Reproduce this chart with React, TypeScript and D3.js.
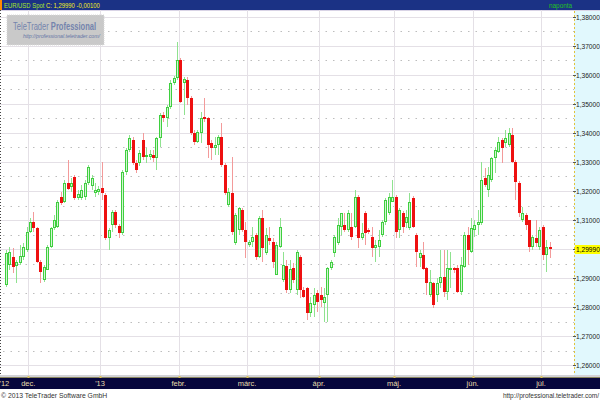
import React from 'react';
import * as d3 from 'd3';

// Daily EUR/USD candles, 22 Nov 2012 .. 3 Jul 2013 (trading-day index 0..159)
const opens = [
  1.2876, 1.2945, 1.2972, 1.2941, 1.2952, 1.2972, 1.2997, 1.3059, 1.3093, 1.3072,
  1.2955, 1.2893, 1.2928, 1.3007, 1.3072, 1.3076, 1.3179, 1.3162, 1.3228, 1.3214,
  1.3248, 1.3176, 1.3176, 1.3179, 1.3228, 1.3217, 1.3193, 1.3197, 1.3210, 1.3186,
  1.3038, 1.3083, 1.3128, 1.3079, 1.3055, 1.3266, 1.3341, 1.3376, 1.3297, 1.3297,
  1.3376, 1.3317, 1.3317, 1.3324, 1.3314, 1.3383, 1.3462, 1.3452, 1.3490, 1.3572,
  1.3590, 1.3652, 1.3572, 1.3583, 1.3521, 1.3400, 1.3369, 1.3400, 1.3455, 1.3452,
  1.3366, 1.3348, 1.3359, 1.3386, 1.3290, 1.3152, 1.3193, 1.3021, 1.3066, 1.3134,
  1.3066, 1.3014, 1.3024, 1.3048, 1.2972, 1.3107, 1.2986, 1.3038, 1.3024, 1.2910,
  1.3007, 1.2893, 1.2941, 1.2859, 1.2934, 1.2859, 1.2972, 1.2859, 1.2866, 1.2779,
  1.2807, 1.2848, 1.2841, 1.2814, 1.2841, 1.2934, 1.2986, 1.3021, 1.3076, 1.3083,
  1.3066, 1.3076, 1.3076, 1.3179, 1.3038, 1.3124, 1.3066, 1.3041, 1.3003, 1.3007,
  1.3048, 1.3093, 1.3124, 1.3162, 1.3179, 1.3066, 1.3124, 1.3090, 1.3072, 1.3176,
  1.3048, 1.2969, 1.2979, 1.2934, 1.2841, 1.2883, 1.2841, 1.2883, 1.2903, 1.2852,
  1.2928, 1.2934, 1.2934, 1.2852, 1.2938, 1.3048, 1.2990, 1.3066, 1.3083, 1.3090,
  1.3245, 1.3203, 1.3238, 1.3314, 1.3335, 1.3376, 1.3366, 1.3359, 1.3393, 1.3300,
  1.3228, 1.3100, 1.3117, 1.3100, 1.3007, 1.3038, 1.3007, 1.3076, 1.2979, 1.3007,
];
const highs = [
  1.2997, 1.3007, 1.3003, 1.2962, 1.3014, 1.3021, 1.3076, 1.3107, 1.3128, 1.3076,
  1.2962, 1.2945, 1.3014, 1.3076, 1.3117, 1.3169, 1.3197, 1.3238, 1.3307, 1.3245,
  1.3255, 1.3203, 1.3221, 1.3238, 1.3290, 1.3255, 1.3228, 1.3217, 1.3300, 1.3193,
  1.3072, 1.3134, 1.3134, 1.3086, 1.3272, 1.3348, 1.3393, 1.3386, 1.3307, 1.3341,
  1.3400, 1.3348, 1.3341, 1.3341, 1.3386, 1.3469, 1.3472, 1.3497, 1.3583, 1.3597,
  1.3714, 1.3659, 1.3593, 1.3593, 1.3528, 1.3410, 1.3410, 1.3472, 1.3521, 1.3455,
  1.3376, 1.3386, 1.3393, 1.3434, 1.3297, 1.3210, 1.3317, 1.3124, 1.3145, 1.3141,
  1.3093, 1.3031, 1.3076, 1.3055, 1.3114, 1.3134, 1.3072, 1.3076, 1.3038, 1.3024,
  1.3107, 1.2990, 1.2962, 1.2962, 1.2952, 1.2997, 1.2979, 1.2869, 1.2869, 1.2834,
  1.2866, 1.2859, 1.2869, 1.2866, 1.2938, 1.2962, 1.3048, 1.3107, 1.3124, 1.3124,
  1.3134, 1.3124, 1.3203, 1.3186, 1.3090, 1.3131, 1.3072, 1.3076, 1.3031, 1.3066,
  1.3100, 1.3176, 1.3193, 1.3238, 1.3186, 1.3141, 1.3131, 1.3134, 1.3193, 1.3183,
  1.3055, 1.2997, 1.3024, 1.2938, 1.2928, 1.2886, 1.2900, 1.2997, 1.2997, 1.2997,
  1.2990, 1.2938, 1.2945, 1.2972, 1.3059, 1.3076, 1.3107, 1.3100, 1.3134, 1.3300,
  1.3279, 1.3283, 1.3317, 1.3352, 1.3386, 1.3383, 1.3410, 1.3417, 1.3417, 1.3307,
  1.3235, 1.3145, 1.3124, 1.3100, 1.3048, 1.3100, 1.3076, 1.3083, 1.3031, 1.3024,
];
const lows = [
  1.2869, 1.2928, 1.2917, 1.2883, 1.2945, 1.2962, 1.2990, 1.3055, 1.3059, 1.2952,
  1.2883, 1.2886, 1.2928, 1.3003, 1.3066, 1.3072, 1.3152, 1.3159, 1.3203, 1.3197,
  1.3169, 1.3169, 1.3169, 1.3169, 1.3221, 1.3203, 1.3179, 1.3186, 1.3169, 1.3031,
  1.2997, 1.3059, 1.3072, 1.3038, 1.3048, 1.3255, 1.3335, 1.3290, 1.3262, 1.3286,
  1.3307, 1.3297, 1.3307, 1.3300, 1.3272, 1.3352, 1.3438, 1.3421, 1.3483, 1.3566,
  1.3583, 1.3504, 1.3462, 1.3497, 1.3393, 1.3359, 1.3366, 1.3366, 1.3438, 1.3314,
  1.3307, 1.3324, 1.3324, 1.3283, 1.3186, 1.3145, 1.3048, 1.3014, 1.3048, 1.3059,
  1.2969, 1.3007, 1.3007, 1.2962, 1.2969, 1.2955, 1.2979, 1.3014, 1.2934, 1.2910,
  1.3003, 1.2886, 1.2848, 1.2848, 1.2883, 1.2841, 1.2831, 1.2831, 1.2755, 1.2765,
  1.2765, 1.2783, 1.2800, 1.2748, 1.2748, 1.2928, 1.2972, 1.3014, 1.3048, 1.3059,
  1.3059, 1.3031, 1.3072, 1.3003, 1.3031, 1.3014, 1.3052, 1.2972, 1.2955, 1.2972,
  1.3041, 1.3083, 1.3117, 1.3162, 1.3038, 1.3038, 1.3055, 1.3072, 1.3066, 1.3072,
  1.2938, 1.2938, 1.2928, 1.2841, 1.2834, 1.2797, 1.2817, 1.2866, 1.2834, 1.2824,
  1.2866, 1.2917, 1.2848, 1.2841, 1.2934, 1.2945, 1.2986, 1.3041, 1.3048, 1.3083,
  1.3214, 1.3179, 1.3231, 1.3262, 1.3331, 1.3297, 1.3352, 1.3352, 1.3297, 1.3169,
  1.3110, 1.3093, 1.3066, 1.2990, 1.2997, 1.3007, 1.2997, 1.2962, 1.2921, 1.2969,
];
const closes = [
  1.2986, 1.2990, 1.2938, 1.2955, 1.2976, 1.3007, 1.3059, 1.3093, 1.3072, 1.2955,
  1.2921, 1.2938, 1.3007, 1.3072, 1.3100, 1.3162, 1.3159, 1.3228, 1.3207, 1.3228,
  1.3176, 1.3190, 1.3203, 1.3228, 1.3283, 1.3245, 1.3203, 1.3207, 1.3193, 1.3038,
  1.3066, 1.3128, 1.3083, 1.3055, 1.3266, 1.3341, 1.3383, 1.3297, 1.3272, 1.3331,
  1.3317, 1.3324, 1.3328, 1.3314, 1.3383, 1.3462, 1.3452, 1.3490, 1.3572, 1.3590,
  1.3652, 1.3507, 1.3586, 1.3521, 1.3400, 1.3369, 1.3403, 1.3452, 1.3448, 1.3359,
  1.3348, 1.3359, 1.3386, 1.3290, 1.3193, 1.3197, 1.3059, 1.3117, 1.3141, 1.3066,
  1.3024, 1.3024, 1.3041, 1.2972, 1.3107, 1.3003, 1.3048, 1.3028, 1.2955, 1.3014,
  1.3076, 1.2945, 1.2859, 1.2931, 1.2893, 1.2990, 1.2859, 1.2834, 1.2779, 1.2814,
  1.2841, 1.2817, 1.2824, 1.2834, 1.2934, 1.2955, 1.3041, 1.3083, 1.3124, 1.3066,
  1.3124, 1.3041, 1.3179, 1.3038, 1.3055, 1.3055, 1.3059, 1.3003, 1.3014, 1.3031,
  1.3093, 1.3169, 1.3179, 1.3179, 1.3059, 1.3134, 1.3076, 1.3110, 1.3162, 1.3076,
  1.2990, 1.2986, 1.2931, 1.2883, 1.2886, 1.2807, 1.2883, 1.2903, 1.2852, 1.2934,
  1.2934, 1.2928, 1.2852, 1.2945, 1.3048, 1.2997, 1.3072, 1.3083, 1.3093, 1.3238,
  1.3221, 1.3255, 1.3314, 1.3341, 1.3369, 1.3348, 1.3383, 1.3400, 1.3300, 1.3231,
  1.3124, 1.3124, 1.3083, 1.3007, 1.3041, 1.3021, 1.3066, 1.2979, 1.3007, 1.2999,
];

// month boundaries (between trading-day indices) and their labels
const monthTickIdx = [6.5, 27.5, 50.5, 70.5, 91.5, 113.5, 136.5, 156.5];
const monthLabels = ['dec.', "'13", 'febr.', 'márc.', 'ápr.', 'máj.', 'jún.', 'júl.'];
const startLabel = "'12";
const startLabelIdx = -0.5;

const yTicks = [1.26, 1.27, 1.28, 1.29, 1.30, 1.31, 1.32, 1.33, 1.34, 1.35, 1.36, 1.37, 1.38];
const yMinorTicks = [1.265, 1.275, 1.285, 1.295, 1.305, 1.315, 1.325, 1.335, 1.345, 1.355, 1.365, 1.375];
const lastPrice = 1.2999;

const headerSymbol = 'EUR/USD Spot';
const headerClose = 'C: 1,29990';
const headerChange = '-0,00100';
const headerPeriod = 'naponta';

const PLOT_L = 0;
const PLOT_R = 574;
const PLOT_T = 10;
const PLOT_B = 375;

const fmt = (v: number) => v.toFixed(5).replace('.', ',');

export default function App() {
  const n = opens.length;
  const x = d3.scaleLinear().domain([0, n - 1]).range([6.08, 6.08 + 3.418 * (n - 1)]);
  const y = d3.scaleLinear().domain([1.26, 1.38]).range([365, 17]);
  const font = 'Liberation Sans, Arial, sans-serif';

  const candles = d3.range(n).map((i) => {
    const o = opens[i], h = highs[i], l = lows[i], c = closes[i];
    const up = c >= o;
    const cx = Math.round(x(i));
    const yTop = Math.round(y(Math.max(o, c)));
    const yBot = Math.round(y(Math.min(o, c)));
    const bh = Math.max(1, yBot - yTop);
    return (
      <g key={i}>
        <line x1={cx + 0.5} x2={cx + 0.5} y1={Math.round(y(h))} y2={Math.round(y(l))}
          stroke={up ? '#8fe28f' : '#f39a9a'} strokeWidth={1} />
        {up ? (
          <rect x={cx - 0.5} y={yTop + 0.5} width={2} height={Math.max(0.5, bh - 1)}
            fill="#d2f5d2" stroke="#3fcf3f" strokeWidth={1} />
        ) : (
          <rect x={cx - 1} y={yTop} width={3} height={bh} fill="#ee1010" />
        )}
      </g>
    );
  });

  return (
    <svg width={600} height={400} style={{ position: 'absolute', left: 0, top: 0, display: 'block' }}
      fontFamily={font}>
      <defs>
        <clipPath id="plotclip">
          <rect x={PLOT_L} y={PLOT_T} width={PLOT_R - PLOT_L} height={PLOT_B - PLOT_T} />
        </clipPath>
      </defs>
      <rect x={0} y={0} width={600} height={400} fill="#ffffff" />

      {/* header bar */}
      <rect x={0} y={0} width={600} height={10} fill="#1b3285" />
      <rect x={0} y={0} width={2} height={10} fill="#ff8a00" />
      <g transform="translate(4,8) scale(0.74,1)">
        <text x={0} y={0} fontSize={8}>
          <tspan fill="#a8e82a">{headerSymbol} </tspan>
          <tspan fill="#f0f020">{headerClose} {headerChange}</tspan>
        </text>
      </g>
      <g transform="translate(549,8) scale(0.8,1)">
        <text x={0} y={0} fontSize={8} fill="#22c022">{headerPeriod}</text>
      </g>
      <line x1={0} x2={600} y1={10.5} y2={10.5} stroke="#d9d4e6" />

      {/* grid */}
      <g>
        {yTicks.map((t) => (
          <line key={'g' + t} x1={PLOT_L} x2={PLOT_R} y1={Math.round(y(t)) + 0.5} y2={Math.round(y(t)) + 0.5}
            stroke="#e4e0e6" strokeWidth={1} />
        ))}
        {yMinorTicks.map((t) => (
          <line key={'m' + t} x1={PLOT_L + 3} x2={PLOT_R} y1={Math.round(y(t)) + 0.5} y2={Math.round(y(t)) + 0.5}
            stroke="#bdbdbd" strokeWidth={1} strokeDasharray="1.5,6" />
        ))}
        {monthTickIdx.map((t, k) => (
          <line key={'v' + k} x1={Math.round(x(t)) + 0.5} x2={Math.round(x(t)) + 0.5} y1={PLOT_T} y2={PLOT_B}
            stroke="#e4e0e6" strokeWidth={1} />
        ))}
      </g>
      <line x1={0.5} x2={0.5} y1={PLOT_T} y2={PLOT_B} stroke="#444" strokeDasharray="1,2" />

      {/* watermark */}
      <rect x={7} y={15} width={97} height={30} fill="#c9c9c9" stroke="#d8d8d8" strokeDasharray="1,1" />
      <g transform="translate(13,30) scale(0.72,1)">
        <text x={0} y={0} fontSize={10.5} fill="#7484ad">
          TeleTrader <tspan fontWeight="bold">Professional</tspan>
        </text>
      </g>
      <g transform="translate(23,37.5) scale(0.9,1)">
        <text x={0} y={0} fontSize={5.8} fontStyle="italic" fill="#6676a6">http://professional.teletrader.com/</text>
      </g>

      {/* candles */}
      <g clipPath="url(#plotclip)">{candles}</g>

      {/* right axis */}
      <rect x={PLOT_R} y={PLOT_T + 1} width={600 - PLOT_R} height={PLOT_B - PLOT_T - 1} fill="#e1f8fd" />
      <line x1={PLOT_R + 0.5} x2={PLOT_R + 0.5} y1={PLOT_T + 1} y2={PLOT_B} stroke="#e2c23a" strokeDasharray="2,2" />
      {yTicks.map((t) => (
        <g key={'yt' + t}>
          <line x1={PLOT_R - 1} x2={PLOT_R + 2} y1={Math.round(y(t)) + 0.5} y2={Math.round(y(t)) + 0.5} stroke="#555" />
          <text x={576} y={y(t) + 2.6} fontSize={6.6} fill="#222">{fmt(t)}</text>
        </g>
      ))}
      <rect x={575} y={Math.round(y(lastPrice)) - 4} width={25} height={9} fill="#ffff00" />
      <text x={576} y={y(lastPrice) + 2.6} fontSize={6.6} fill="#000">{fmt(lastPrice)}</text>

      {/* bottom axis */}
      <rect x={0} y={PLOT_B} width={600} height={2} fill="#d2d2d6" />
      <rect x={0} y={PLOT_B + 2} width={600} height={12} fill="#06063c" />
      <line x1={0} x2={600} y1={PLOT_B + 2.5} y2={PLOT_B + 2.5} stroke="#8a8660" />
      {monthTickIdx.map((t, k) => (
        <g key={'xt' + k}>
          <rect x={Math.round(x(t)) - 0.5} y={PLOT_B + 1} width={2} height={2} fill="#d8c060" />
          <text x={x(t)} y={PLOT_B + 11} fontSize={7.5} fill="#e6dcac" textAnchor="middle">{monthLabels[k]}</text>
        </g>
      ))}
      <text x={x(startLabelIdx)} y={PLOT_B + 11} fontSize={7.5} fill="#e6dcac" textAnchor="middle">{startLabel}</text>

      {/* footer */}
      <text x={1} y={397.5} fontSize={6.8} fill="#333">© 2013 TeleTrader Software GmbH</text>
      <text x={599} y={397.5} fontSize={6.5} fill="#333" textAnchor="end">http://professional.teletrader.com/</text>
    </svg>
  );
}
